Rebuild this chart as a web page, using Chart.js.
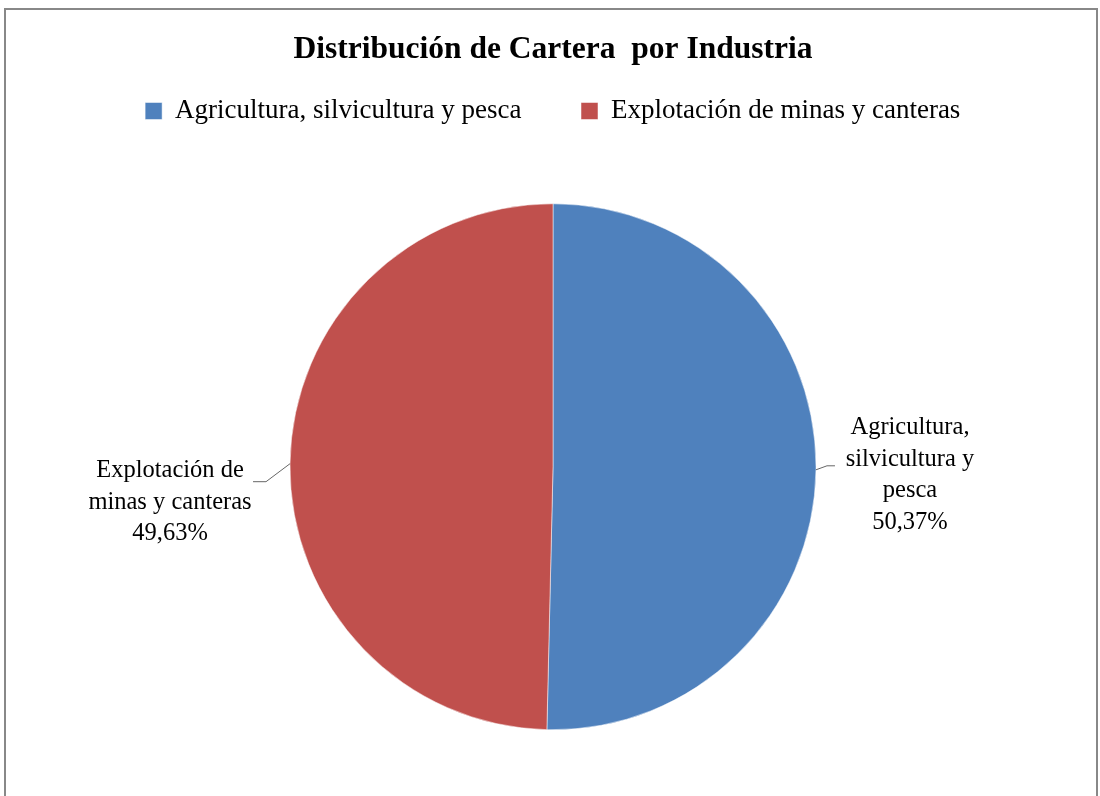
<!DOCTYPE html>
<html>
<head>
<meta charset="utf-8">
<script src="https://cdn.jsdelivr.net/npm/chart.js@4/dist/chart.umd.min.js"></script>
<style>
  body { margin: 0; background: #fff; }
  #wrap { position: absolute; left: 0; top: 0; width: 1100px; height: 796px; }
  #frame { position: absolute; left: 4px; top: 8px; width: 1090px; height: 800px; border: 2px solid #888; pointer-events: none; }
</style>
</head>
<body>
<div id="wrap">
  <canvas id="chart" width="1100" height="796"></canvas>
  <div id="frame"></div>
</div>
<script>
const industrias = ["Agricultura, silvicultura y pesca", "Explotación de minas y canteras"];
const porcentajes = [50.37, 49.63];
const etiquetas = [["Agricultura,", "silvicultura y", "pesca"], ["Explotación de", "minas y canteras"]];
const colores = ["#4F81BD", "#C0504D"];

const serif = "'Liberation Serif', 'Times New Roman', serif";

// etiquetas de datos con linea guia, fuera del pastel
const labelPlugin = {
  id: "outLabels",
  beforeLayout(chart) {
    // deja espacio entre la leyenda y el pastel
    const lg = chart.legend;
    if (lg && !lg._patched) {
      const fit = lg.fit;
      lg.fit = function () { fit.call(this); this.height += 69; };
      lg._patched = true;
    }
  },
  afterDraw(chart, args, opts) {
    const ctx = chart.ctx;
    const arcs = chart.getDatasetMeta(0).data;
    ctx.save();
    ctx.font = "24.5px " + serif;
    ctx.textAlign = "center";
    ctx.textBaseline = "middle";
    arcs.forEach((arc, i) => {
      const p = arc.getProps(["x", "y", "startAngle", "endAngle", "outerRadius"], true);
      const mid = (p.startAngle + p.endAngle) / 2;
      const ax = p.x + Math.cos(mid) * p.outerRadius;
      const ay = p.y + Math.sin(mid) * p.outerRadius;
      const o = opts.pos[i];
      ctx.strokeStyle = "#666";
      ctx.lineWidth = 1;
      ctx.beginPath();
      ctx.moveTo(ax, ay);
      ctx.lineTo(ax + o.elbow[0], ay + o.elbow[1]);
      ctx.lineTo(ax + o.end[0], ay + o.end[1]);
      ctx.stroke();
      const lines = etiquetas[i].concat([porcentajes[i].toFixed(2).replace(".", ",") + "%"]);
      ctx.fillStyle = "#000";
      lines.forEach((t, k) => {
        ctx.fillText(t, ax + o.text[0], ay + o.text[1] + k * 31.5);
      });
    });
    ctx.restore();
  }
};

const pieLabels = Chart.overrides.doughnut.plugins.legend.labels.generateLabels;

new Chart(document.getElementById("chart"), {
  type: "pie",
  data: {
    labels: industrias,
    datasets: [{
      data: porcentajes,
      backgroundColor: colores,
      borderColor: "#fff",
      borderWidth: 0.5
    }]
  },
  options: {
    responsive: false,
    animation: false,
    layout: { padding: { left: 6, bottom: 66 } },
    plugins: {
      title: {
        display: true,
        text: "Distribución de Cartera  por Industria",
        color: "#000",
        font: { family: serif, size: 31.5, weight: "bold" },
        padding: { top: 31, bottom: 22.7 }
      },
      legend: {
        position: "top",
        labels: {
          color: "#000",
          font: { family: serif, size: 27 },
          usePointStyle: true,
          pointStyle: "rect",
          boxWidth: 16,
          boxHeight: 17,
          padding: 6,
          generateLabels(chart) {
            const items = pieLabels(chart);
            // separacion entre elementos de la leyenda
            items.forEach((it, i) => { if (i < items.length - 1) it.text += "\u2003\u2003"; });
            return items;
          }
        }
      },
      tooltip: { enabled: false },
      outLabels: {
        pos: [
          { elbow: [11, -4], end: [19, -4], text: [94, -42] },
          { elbow: [-24, 18], end: [-37, 18], text: [-120, 7] }
        ]
      }
    }
  },
  plugins: [labelPlugin]
});
</script>
</body>
</html>
